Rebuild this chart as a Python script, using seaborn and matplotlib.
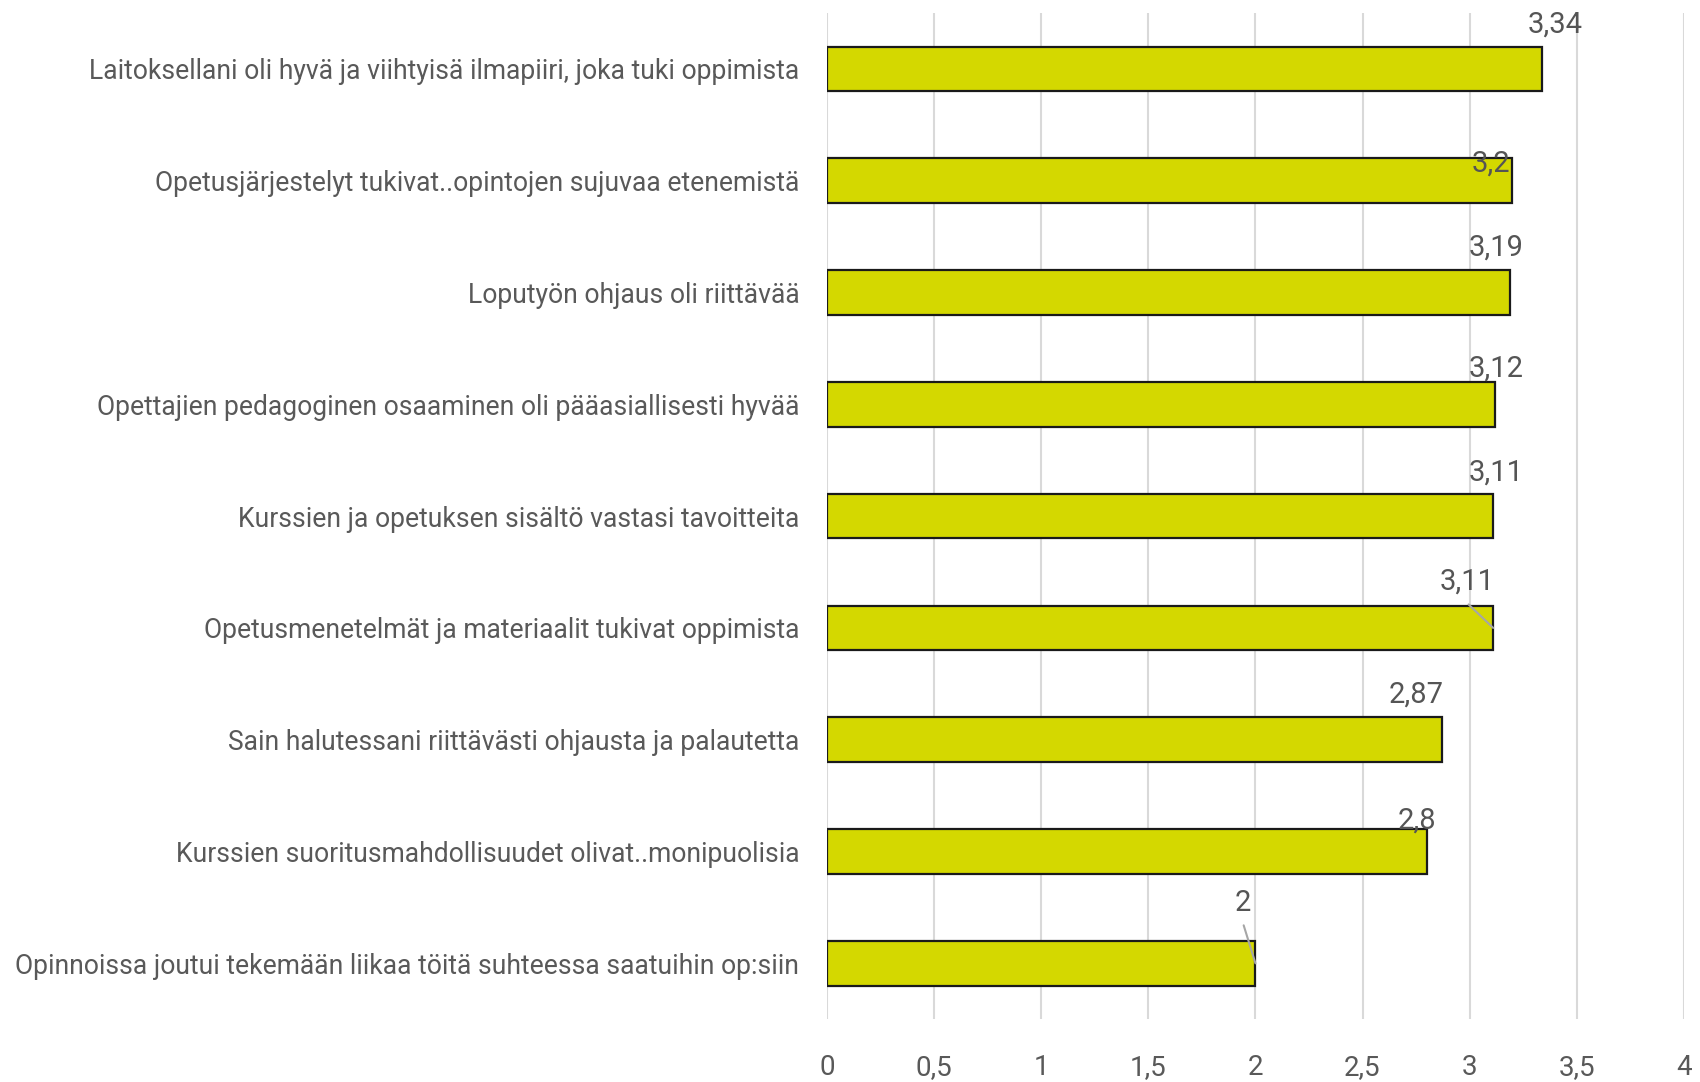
import matplotlib
matplotlib.use("Agg")
import matplotlib.pyplot as plt
import seaborn as sns

# data, top to bottom
categories = [
    "Laitoksellani oli hyvä ja viihtyisä ilmapiiri, joka tuki oppimista",
    "Opetusjärjestelyt tukivat..opintojen sujuvaa etenemistä",
    "Loputyön ohjaus oli riittävää",
    "Opettajien pedagoginen osaaminen oli pääasiallisesti hyvää",
    "Kurssien ja opetuksen sisältö vastasi tavoitteita",
    "Opetusmenetelmät ja materiaalit tukivat oppimista",
    "Sain halutessani riittävästi ohjausta ja palautetta",
    "Kurssien suoritusmahdollisuudet olivat..monipuolisia",
    "Opinnoissa joutui tekemään liikaa töitä suhteessa saatuihin op:siin",
]
values = [3.34, 3.2, 3.19, 3.12, 3.11, 3.11, 2.87, 2.8, 2.0]
value_labels = ["3,34", "3,2", "3,19", "3,12", "3,11", "3,11", "2,87", "2,8", "2"]
ticks = [0, 0.5, 1, 1.5, 2, 2.5, 3, 3.5, 4]
tick_labels = ["0", "0,5", "1", "1,5", "2", "2,5", "3", "3,5", "4"]

# label placement (as in the manually moved Excel labels)
label_x = [3.40, 3.10, 3.124, 3.124, 3.124, 2.99, 2.75, 2.755, 1.94]
label_dy = [-0.40, -0.155, -0.40, -0.32, -0.39, -0.41, -0.40, -0.28, -0.54]
leader = [False, False, False, False, False, True, False, False, True]

sns.set_theme(style="white")
plt.rcParams["font.family"] = ["Roboto", "DejaVu Sans"]

fig = plt.figure(figsize=(17, 10.82), dpi=100)
ax = fig.add_axes([0.4865, 0.058, 0.504, 0.930])

sns.barplot(x=values, y=categories, orient="h", color="#d4d800", saturation=1,
            width=0.4, edgecolor="#1a1a1a", linewidth=1.6, ax=ax, zorder=3)

ax.set_xlim(0, 4)
ax.set_ylim(8.5, -0.5)
ax.set_xticks(ticks)
ax.set_xticklabels(tick_labels, fontsize=20, color="#595959")
ax.tick_params(axis="x", length=0, pad=25)
ax.tick_params(axis="y", length=0, pad=20)
for t in ax.get_yticklabels():
    t.set_fontsize(19.1)
    t.set_color("#595959")
ax.xaxis.grid(True, color="#d9d9d9", linewidth=1.5, zorder=0)
ax.set_axisbelow(True)
for s in ax.spines.values():
    s.set_visible(False)
ax.set_xlabel("")
ax.set_ylabel("")

for i, (v, lab) in enumerate(zip(values, value_labels)):
    ty = i + label_dy[i]
    ax.text(label_x[i], ty, lab, ha="center", va="center", fontsize=21,
            color="#555555", zorder=5)
    if leader[i]:
        ax.plot([label_x[i] + 0.005, v], [ty + 0.2, i], color="#a6a6a6",
                linewidth=1.5, zorder=4)

fig.savefig("out.png", dpi=100)
